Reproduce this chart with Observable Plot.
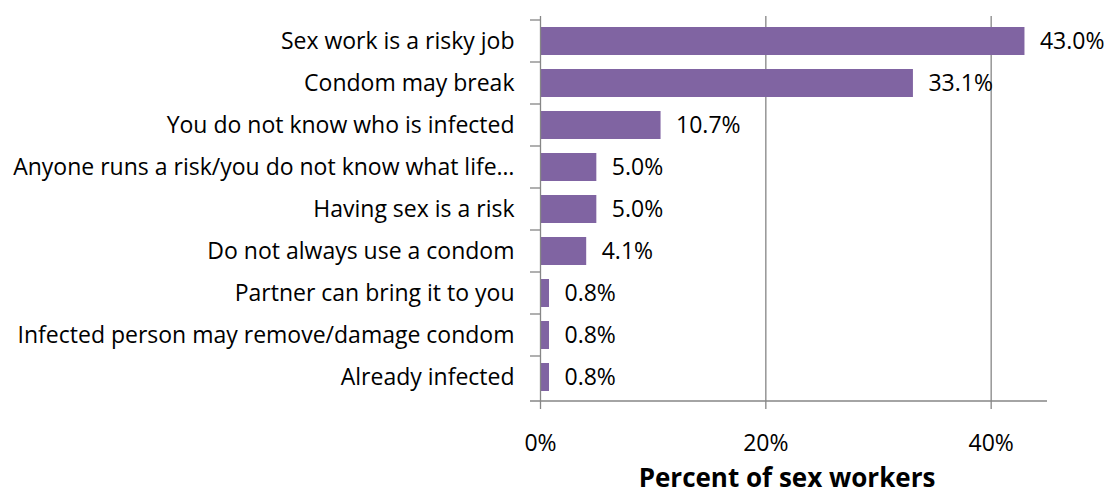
<!DOCTYPE html>
<html>
<head>
<meta charset="utf-8">
<script src="https://cdn.jsdelivr.net/npm/d3@7"></script>
<script src="https://cdn.jsdelivr.net/npm/@observablehq/plot@0.6"></script>
<style>
  html, body { margin: 0; padding: 0; background: #fff; }
  #chart svg { display: block; }
</style>
</head>
<body>
<div id="chart"></div>
<script>
const categories = [
  "Sex work is a risky job",
  "Condom may break",
  "You do not know who is infected",
  "Anyone runs a risk/you do not know what life…",
  "Having sex is a risk",
  "Do not always use a condom",
  "Partner can bring it to you",
  "Infected person may remove/damage condom",
  "Already infected"
];
const values = [43.0, 33.1, 10.7, 5.0, 5.0, 4.1, 0.8, 0.8, 0.8];
const xTicks = [0, 20, 40];
const xDomain = [0, 45];
const axisTitle = "Percent of sex workers";

const data = categories.map((c, i) => ({category: c, value: values[i]}));

const FONT = "'Open Sans', sans-serif";
const FS = 23;
const GRAY = "#868686";
const BAR = "#8064A2";

// y-axis tick marks at category boundaries + bottom axis line
function boundaryTicks(index, scales, vals, dims) {
  const g = d3.create("svg:g");
  const y = scales.y;
  const step = y.step();
  const x0 = dims.marginLeft;
  const x1 = dims.width - dims.marginRight;
  const yb = dims.height - dims.marginBottom;
  categories.forEach(c => {
    const yy = y(c) + y.bandwidth() / 2 - step / 2;
    g.append("line").attr("x1", x0 - 10).attr("x2", x0).attr("y1", yy).attr("y2", yy)
      .attr("stroke", GRAY).attr("stroke-width", 1.3);
  });
  g.append("line").attr("x1", x0 - 10).attr("x2", x1).attr("y1", yb).attr("y2", yb)
    .attr("stroke", GRAY).attr("stroke-width", 1.3);
  return g.node();
}

const chart = Plot.plot({
  width: 1107,
  height: 493,
  marginLeft: 540,
  marginRight: 60,
  marginTop: 16,
  marginBottom: 92,
  style: {fontFamily: FONT, fontSize: FS + "px", color: "#000", background: "#fff"},
  x: {domain: xDomain, label: null},
  y: {domain: categories, paddingInner: 0.34, paddingOuter: 0.17, label: null},
  marks: [
    Plot.gridX(xTicks.filter(d => d > 0), {stroke: GRAY, strokeOpacity: 1, strokeWidth: 1.3}),
    Plot.barX(data, {x: "value", y: "category", fill: BAR}),
    Plot.ruleX([0], {stroke: GRAY, strokeWidth: 1.3}),
    boundaryTicks,
    Plot.axisX({ticks: xTicks, tickFormat: d => d + "%", tickSize: 8, tickPadding: 25,
      stroke: GRAY, strokeWidth: 1.3, fontSize: FS, label: null}),
    Plot.axisY({tickSize: 0, tickPadding: 26, fontSize: FS, label: null}),
    Plot.text(data, {x: "value", y: "category", text: d => d.value.toFixed(1) + "%",
      textAnchor: "start", dx: 15, fontSize: FS, fill: "#000"}),
    Plot.text([axisTitle], {frameAnchor: "bottom", dx: -7, dy: 85, fontSize: 26, fontWeight: "bold", fill: "#000"})
  ]
});
document.getElementById("chart").appendChild(chart);
</script>
</body>
</html>
